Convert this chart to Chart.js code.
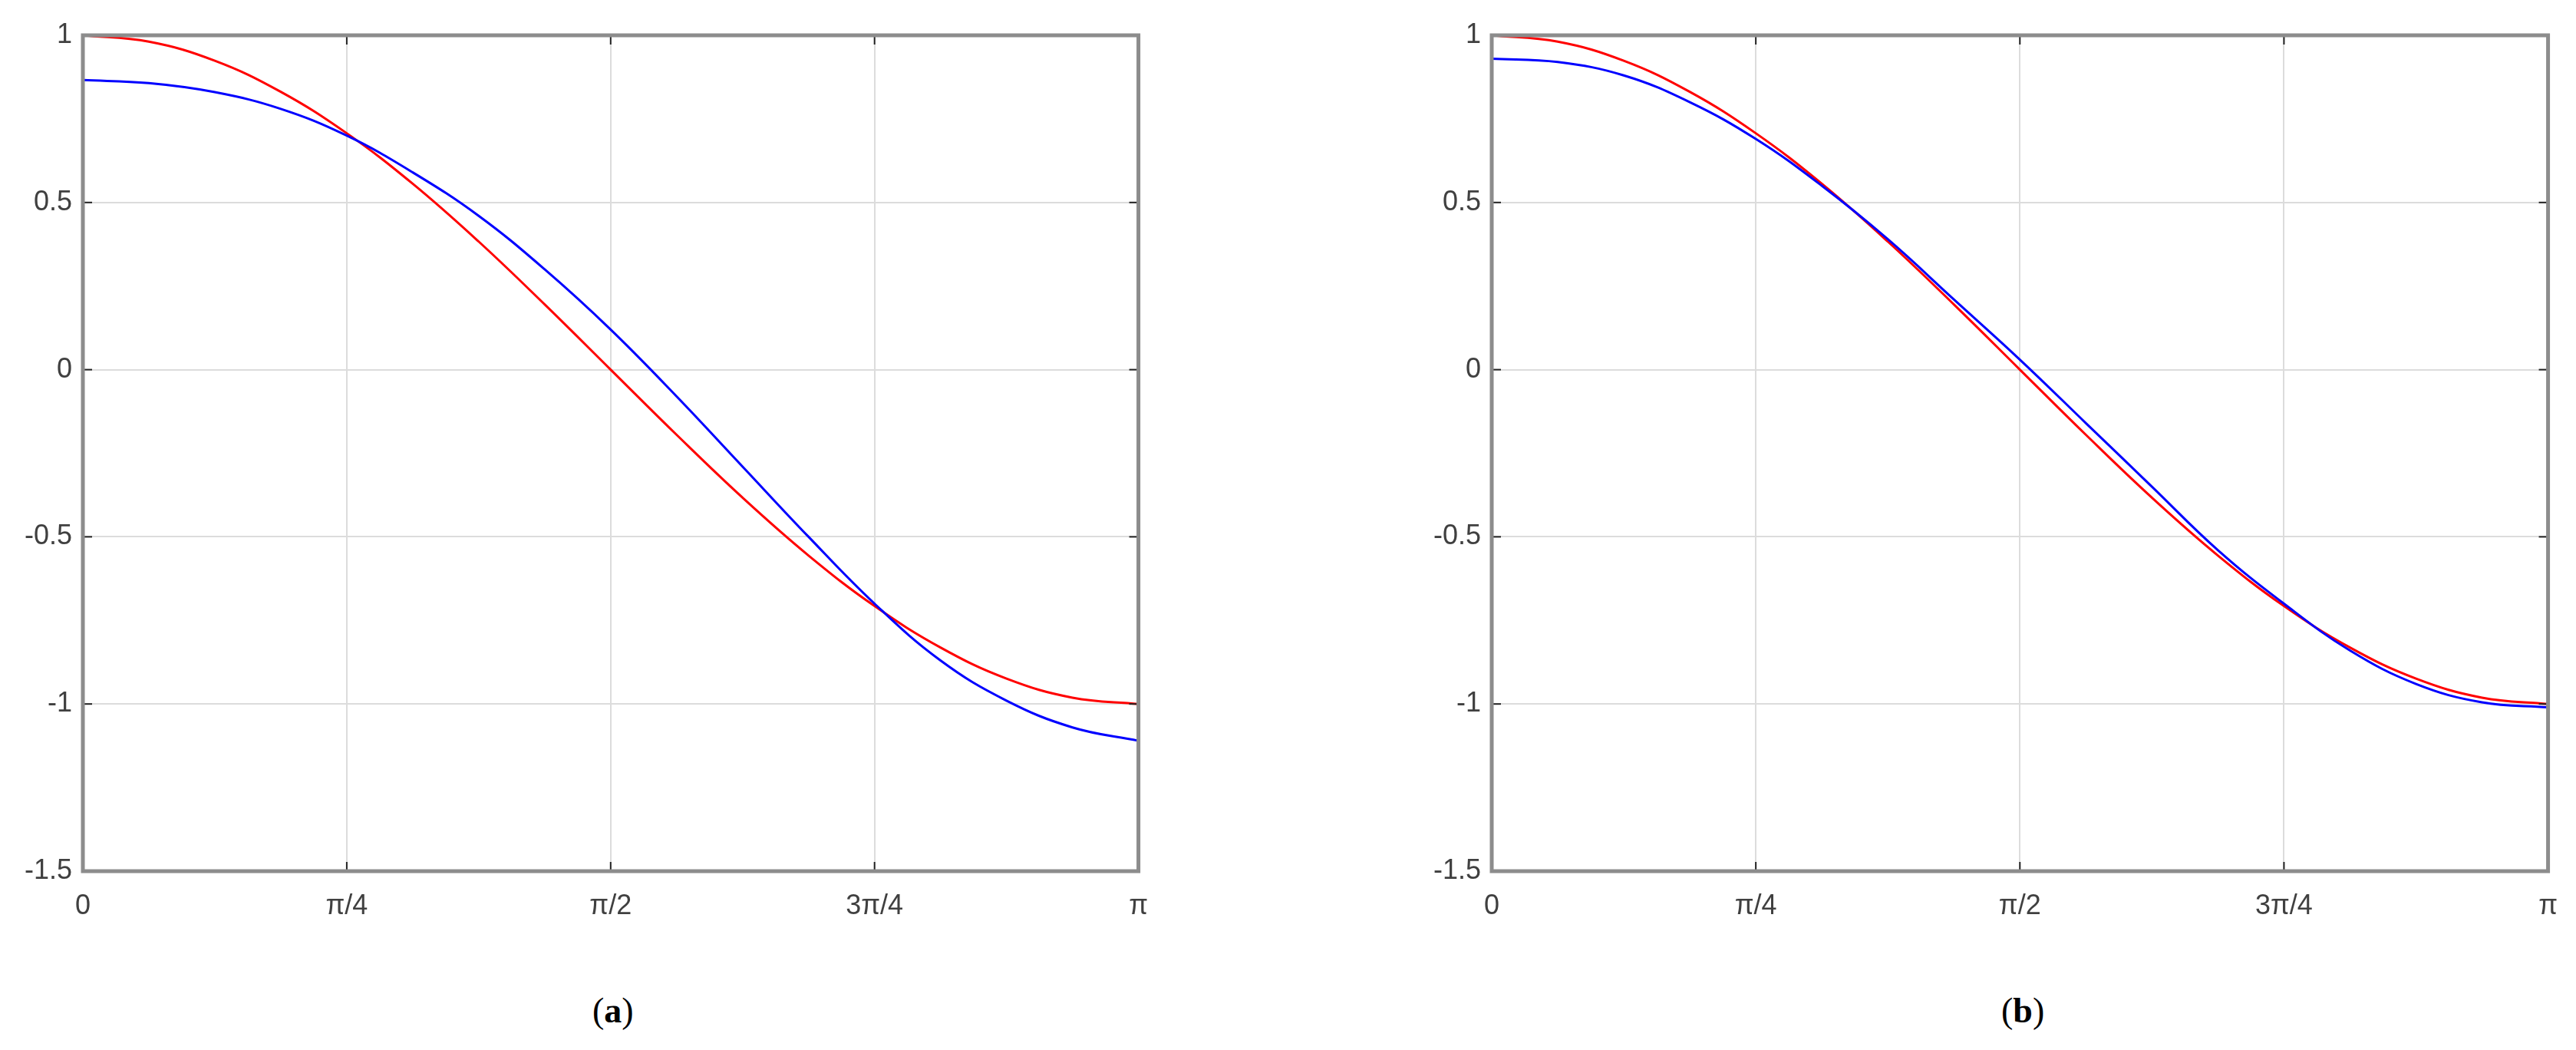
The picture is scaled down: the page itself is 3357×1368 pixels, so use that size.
<!DOCTYPE html>
<html>
<head>
<meta charset="utf-8">
<script src="https://cdn.jsdelivr.net/npm/chart.js@4/dist/chart.umd.min.js"></script>
<style>
body{margin:0;background:#fff;width:3357px;height:1368px;position:relative;overflow:hidden}
.wrap{position:absolute;top:0;height:1230px}
.cap{position:absolute;top:1290px;font:bold 46px "Liberation Serif",serif;color:#000}
</style>
</head>
<body>
<div class="wrap" style="left:0;width:1520px"><canvas id="chartA"></canvas></div>
<div class="wrap" style="left:1836px;width:1521px"><canvas id="chartB"></canvas></div>
<div class="cap" style="left:772px"><span style="font-weight:normal">(</span>a<span style="font-weight:normal">)</span></div>
<div class="cap" style="left:2608px"><span style="font-weight:normal">(</span>b<span style="font-weight:normal">)</span></div>
<script>
// x positions in multiples of pi/16
var xSteps = [0,1,2,3,4,5,6,7,8,9,10,11,12,13,14,15,16];
var xTicks = ['0','π/4','π/2','3π/4','π'];
// red curve (same in both panels)
var redVals = [1,0.981,0.924,0.831,0.707,0.556,0.383,0.195,0,-0.195,-0.383,-0.556,-0.707,-0.831,-0.924,-0.981,-1];
// blue curve, panel (a)
var blueA = [0.866,0.857,0.83,0.78,0.70,0.59,0.46,0.30,0.12,-0.08,-0.29,-0.50,-0.70,-0.87,-0.99,-1.07,-1.11];
// blue curve, panel (b)
var blueB = [0.93,0.92,0.88,0.80,0.69,0.55,0.39,0.21,0.03,-0.16,-0.35,-0.54,-0.70,-0.84,-0.94,-0.995,-1.01];

function pts(vals){
    return vals.map(function(v,i){ return {x: xSteps[i]*Math.PI/16, y: v}; });
}

var frame = {
    id:'frame',
    afterDraw:function(c){
        var a=c.chartArea, g=c.ctx;
        g.save();
        g.strokeStyle='#222'; g.lineWidth=2;
        c.scales.x.ticks.forEach(function(t){
            var px=c.scales.x.getPixelForValue(t.value);
            g.beginPath(); g.moveTo(px,a.bottom); g.lineTo(px,a.bottom-12); g.stroke();
            g.beginPath(); g.moveTo(px,a.top); g.lineTo(px,a.top+12); g.stroke();
        });
        c.scales.y.ticks.forEach(function(t){
            var py=c.scales.y.getPixelForValue(t.value);
            g.beginPath(); g.moveTo(a.left,py); g.lineTo(a.left+12,py); g.stroke();
            g.beginPath(); g.moveTo(a.right,py); g.lineTo(a.right-12,py); g.stroke();
        });
        g.strokeStyle='#8c8c8c'; g.lineWidth=5;
        g.strokeRect(a.left,a.top,a.right-a.left,a.bottom-a.top);
        g.restore();
    }
};

function makeChart(id, blue){
    new Chart(document.getElementById(id), {
        type:'line',
        data:{
            datasets:[
                {data:pts(blue),borderColor:'#0000ff',borderWidth:3,pointRadius:0,tension:0.4},
                {data:pts(redVals),borderColor:'#ff0000',borderWidth:3,pointRadius:0,tension:0.4}
            ]
        },
        options:{
            responsive:true,maintainAspectRatio:false,animation:false,
            layout:{padding:{top:46,right:32,left:0,bottom:0}},
            plugins:{legend:{display:false},tooltip:{enabled:false}},
            scales:{
                x:{
                    type:'linear',min:0,max:Math.PI,
                    afterBuildTicks:function(s){ s.ticks=xTicks.map(function(l,i){return {value:i*Math.PI/4};}); },
                    afterFit:function(s){ s.height=95; },
                    grid:{color:'#dcdcdc',lineWidth:2,drawTicks:false},
                    border:{display:false},
                    ticks:{padding:24,color:'#404040',font:{family:'"Liberation Sans Narrow","Liberation Sans",sans-serif',size:36},
                        callback:function(v,i){ return xTicks[i]; }}
                },
                y:{
                    min:-1.5,max:1,
                    afterFit:function(s){ s.width=108; },
                    grid:{color:'#dcdcdc',lineWidth:2,drawTicks:false},
                    border:{display:false},
                    ticks:{stepSize:0.5,padding:14,color:'#404040',font:{family:'"Liberation Sans Narrow","Liberation Sans",sans-serif',size:36},
                        callback:function(v){ return String(Math.round(v*10)/10); }}
                }
            }
        },
        plugins:[frame]
    });
}
makeChart('chartA', blueA);
makeChart('chartB', blueB);
</script>
</body>
</html>
